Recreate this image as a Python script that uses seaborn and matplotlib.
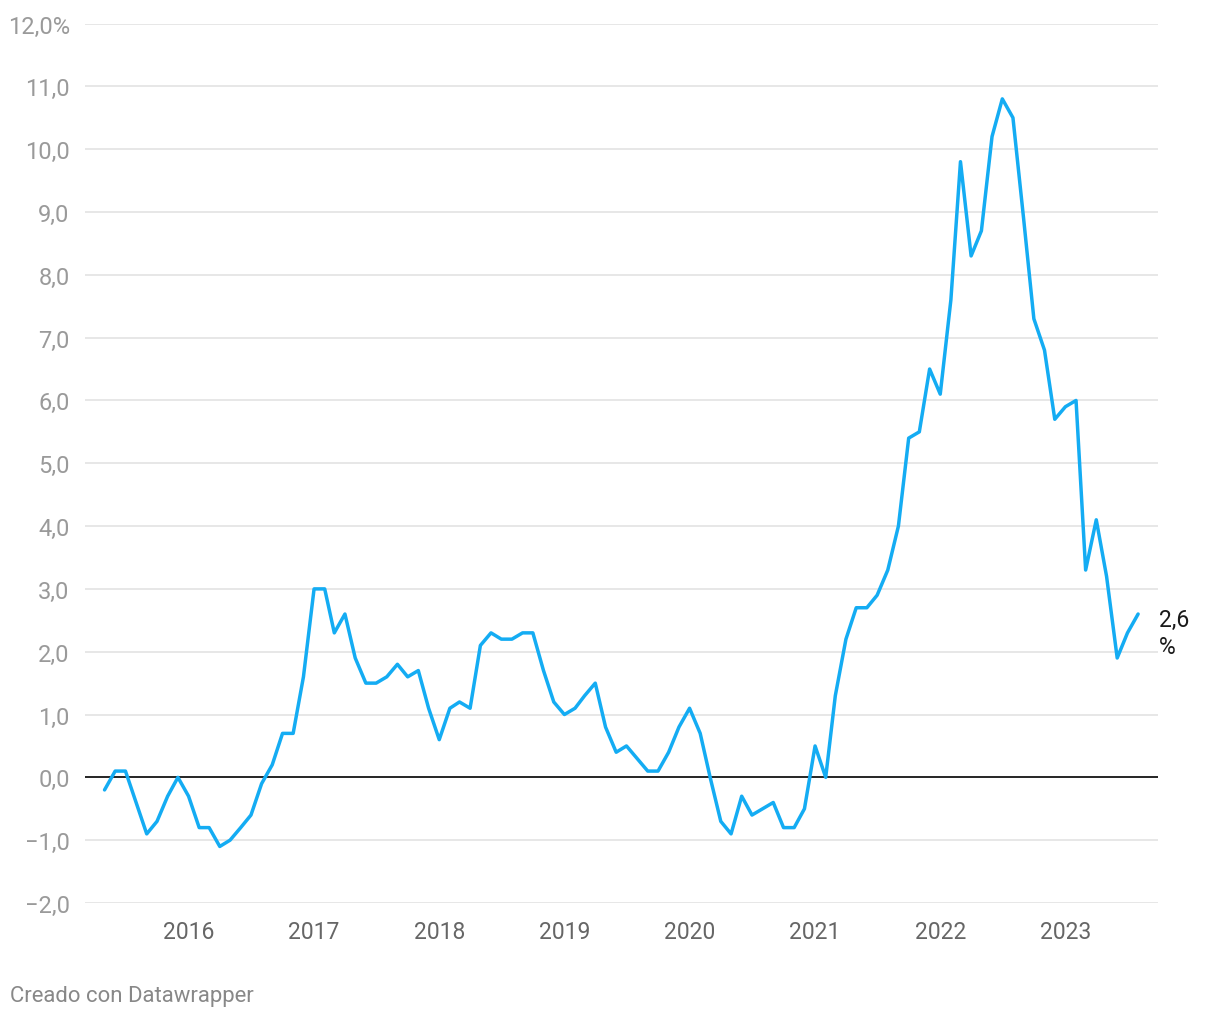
import matplotlib
matplotlib.use("Agg")
import matplotlib.pyplot as plt
import matplotlib.dates as mdates
import seaborn as sns
import pandas as pd
import numpy as np

# Monthly interannual CPI rate (%), May 2015 – Aug 2023
start_month = "2015-05-01"
values = [
    -0.2, 0.1, 0.1, -0.4, -0.9, -0.7, -0.3, 0.0,                       # 2015 May-Dec
    -0.3, -0.8, -0.8, -1.1, -1.0, -0.8, -0.6, -0.1, 0.2, 0.7, 0.7, 1.6,  # 2016
    3.0, 3.0, 2.3, 2.6, 1.9, 1.5, 1.5, 1.6, 1.8, 1.6, 1.7, 1.1,          # 2017
    0.6, 1.1, 1.2, 1.1, 2.1, 2.3, 2.2, 2.2, 2.3, 2.3, 1.7, 1.2,          # 2018
    1.0, 1.1, 1.3, 1.5, 0.8, 0.4, 0.5, 0.3, 0.1, 0.1, 0.4, 0.8,          # 2019
    1.1, 0.7, 0.0, -0.7, -0.9, -0.3, -0.6, -0.5, -0.4, -0.8, -0.8, -0.5, # 2020
    0.5, 0.0, 1.3, 2.2, 2.7, 2.7, 2.9, 3.3, 4.0, 5.4, 5.5, 6.5,          # 2021
    6.1, 7.6, 9.8, 8.3, 8.7, 10.2, 10.8, 10.5, 8.9, 7.3, 6.8, 5.7,       # 2022
    5.9, 6.0, 3.3, 4.1, 3.2, 1.9, 2.3, 2.6,                              # 2023 Jan-Aug
]
years = [2016, 2017, 2018, 2019, 2020, 2021, 2022, 2023]
y_ticks = [-2, -1, 0, 1, 2, 3, 4, 5, 6, 7, 8, 9, 10, 11, 12]
end_value_label = "2,6"
end_unit_label = "%"
footer = "Creado con Datawrapper"

dates = pd.date_range(start_month, periods=len(values), freq="MS")
df = pd.DataFrame({"fecha": dates, "ipc": values})

sns.set_theme(style="white")
plt.rcParams["font.family"] = ["Roboto", "DejaVu Sans"]

fig = plt.figure(figsize=(12.2, 10.2), dpi=100)
ax = fig.add_axes([85 / 1220, 1 - 904 / 1020, (1158 - 85) / 1220, (904 - 24.5) / 1020])

line_color = "#14acf3"
sns.lineplot(data=df, x="fecha", y="ipc", ax=ax, color=line_color, linewidth=2.5,
             zorder=5)
for l in ax.lines:
    l.set_solid_joinstyle("round")
    l.set_solid_capstyle("round")

ax.set_ylim(-2, 12)
ax.set_xlim(pd.Timestamp("2015-03-05"), pd.Timestamp("2023-09-28"))

for v in y_ticks:
    if v == 0:
        ax.axhline(v, color="black", linewidth=1.2, zorder=4)
    else:
        ax.axhline(v, color="#e3e3e3", linewidth=1.2, zorder=1)

ax.set_yticks(y_ticks)
ylabels = []
for v in y_ticks:
    s = f"{v:.1f}".replace(".", ",").replace("-", "\u2212")
    if v == 12:
        s += "%"
    ylabels.append(s)
ax.set_yticklabels(ylabels)
ax.tick_params(axis="y", length=0, pad=11, labelsize=17, labelcolor="#9a9a9a")

ax.set_xticks([pd.Timestamp(f"{y}-01-01") for y in years])
ax.set_xticklabels([str(y) for y in years])
ax.tick_params(axis="x", length=0, pad=12, labelsize=16.5, labelcolor="#666666")

ax.set_xlabel("")
ax.set_ylabel("")
for s in ax.spines.values():
    s.set_visible(False)
ax.grid(False)

x_end, y_end = df["fecha"].iloc[-1], df["ipc"].iloc[-1]
ax.annotate(end_value_label, xy=(x_end, y_end), xytext=(15, -4),
            textcoords="offset points", ha="left", va="center",
            fontsize=16.5, color="#1a1a1a", annotation_clip=False)
ax.annotate(end_unit_label, xy=(x_end, y_end), xytext=(15, -23.5),
            textcoords="offset points", ha="left", va="center",
            fontsize=16.5, color="#1a1a1a", annotation_clip=False)

fig.text(10 / 1220, 1 - 997 / 1020, footer, fontsize=15.9, color="#888888",
         ha="left", va="center")

fig.savefig("out.png", dpi=100, facecolor="white")
